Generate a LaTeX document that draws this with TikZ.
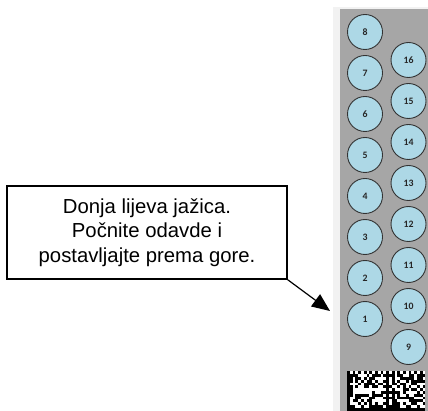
\documentclass[tikz,border=0pt]{standalone}
\usepackage{fontspec}
\setmainfont{Liberation Sans}
\newfontfamily\numfont{Carlito}
\usetikzlibrary{arrows.meta}
\definecolor{panelgray}{HTML}{A6A6A6}
\definecolor{wellblue}{HTML}{ADD8E6}
\definecolor{framegray}{HTML}{F2F2F2}
\begin{document}
\begin{tikzpicture}[x=1pt,y=-1pt,
  well/.style={circle, draw=black!80, line width=0.9pt, fill=wellblue,
    minimum size=35pt, inner sep=0pt,
    font=\numfont\bfseries\fontsize{9.8}{10}\selectfont, text=black!85},
  callout/.style={draw=black, line width=1.6pt, fill=white, align=center,
    font=\fontsize{20.3}{24.5}\selectfont, minimum width=280pt,
    minimum height=93pt, inner sep=0pt},
  pointer/.style={-{Triangle[length=18pt,width=15pt]}, line width=1.2pt}]
\useasboundingbox (0,0) rectangle (428,411);
\fill[white] (0,0) rectangle (428,411);
\fill[framegray] (333,7) rectangle (428,411);
\fill[panelgray] (340,9) rectangle (428,411);
% wells
\foreach \n in {1,...,8}
  \node[well] (w\n) at (365,{319-41*(\n-1)}) {\n};
\foreach \n in {9,...,16}
  \node[well] (w\n) at (408.5,{347-41*(\n-9)}) {\n};
% data matrix code
\begin{scope}
  \clip (347,371.3) rectangle (425.4,411);
  \fill[white] (347,371.3) rectangle (425.4,411);
  \pgfmathsetseed{4711}
  \foreach \b in {0,1} {
    \foreach \c in {0,...,13} {
      \foreach \r in {0,...,13} {
        \pgfmathrandominteger{\rnd}{0}{99}
        \pgfmathtruncatemacro{\blk}{
          (\c==0) ? 1 : ((\r==13) ? 1 : ((\r==0) ? (mod(\c,2)==0 ? 1 : 0) :
          ((\c==13) ? (mod(\r,2)==1 ? 1 : 0) : (\rnd<50 ? 1 : 0))))}
        \ifnum\blk=1
          \fill[black] ({347+39.2*\b+2.8*\c},{371.3+2.8*\r})
            rectangle ++(2.85,2.85);
        \fi
      }
    }
  }
\end{scope}
% callout
\node[callout] (note) at (147,232.5)
  {Donja lijeva jažica.\\Počnite odavde i\\postavljajte prema gore.};
\coordinate (tip) at (330,311);
\draw[pointer] (note.south east) -- (tip);
\end{tikzpicture}
\end{document}
